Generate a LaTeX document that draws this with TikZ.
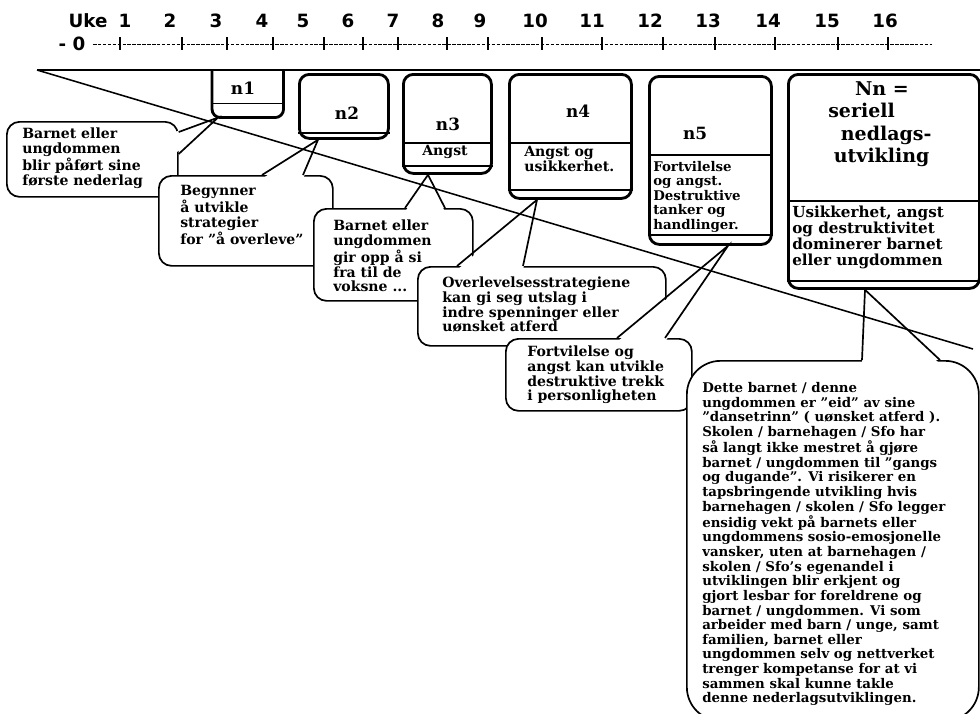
\documentclass[tikz,border=0pt]{standalone}
\usepackage{fontspec}
\setmainfont{DejaVu Serif}
\setsansfont{DejaVu Sans}
\newlength\pxu
\setlength\pxu{0.025cm}
\begin{document}
\begin{tikzpicture}[x=0.025cm,y=-0.025cm,
        every node/.style={inner sep=0pt},
        uke/.style={font=\sffamily\bfseries\fontsize{13}{15}\selectfont},
        strek/.style={line width=0.9pt},
        tidslinje/.style={line width=0.6pt, dash pattern=on 2.5pt off 1pt},
        boks/.style={draw, line width=2pt, rounded corners=7pt, fill=white, anchor=north west},
        boksrom/.style={anchor=north west},
        skille/.style={line width=1pt},
        tittel/.style={font=\bfseries\fontsize{12}{14}\selectfont},
        boble/.style={draw, fill=white, line width=1.2pt, rounded corners=9pt, anchor=north west},
        hale/.style={line width=1.2pt, line join=miter},
        tekst/.style={anchor=north west, align=left, font=\bfseries\fontsize{10}{10.4}\selectfont},
        liten/.style={anchor=north west, align=left, font=\bfseries\fontsize{9.5}{10.3}\selectfont}]
        \useasboundingbox (0,0) rectangle (980,713);
        \node[uke] (uke) at (88,21) {Uke};
        \node[uke] (u1) at (125,21) {1};
        \node[uke] (u2) at (170,21) {2};
        \node[uke] (u3) at (216,21) {3};
        \node[uke] (u4) at (262,21) {4};
        \node[uke] (u5) at (303,21) {5};
        \node[uke] (u6) at (348,21) {6};
        \node[uke] (u7) at (393,21) {7};
        \node[uke] (u8) at (438,21) {8};
        \node[uke] (u9) at (480,21) {9};
        \node[uke] (u10) at (535,21) {10};
        \node[uke] (u11) at (592,21) {11};
        \node[uke] (u12) at (650,21) {12};
        \node[uke] (u13) at (708,21) {13};
        \node[uke] (u14) at (768,21) {14};
        \node[uke] (u15) at (827,21) {15};
        \node[uke] (u16) at (885,21) {16};
        \node[uke] (u0) at (72,44) {- 0};
        \coordinate (tstart) at (93,44);
        \coordinate (tslutt) at (932,44);
        \draw[tidslinje] (tstart) -- (tslutt);
        \draw[strek] (120,37) -- (120,50);
        \draw[strek] (182,37) -- (182,50);
        \draw[strek] (227,37) -- (227,50);
        \draw[strek] (273,37) -- (273,50);
        \draw[strek] (324,37) -- (324,50);
        \draw[strek] (363,37) -- (363,50);
        \draw[strek] (398,37) -- (398,50);
        \draw[strek] (447,37) -- (447,50);
        \draw[strek] (488,37) -- (488,50);
        \draw[strek] (542,37) -- (542,50);
        \draw[strek] (602,37) -- (602,50);
        \draw[strek] (663,37) -- (663,50);
        \draw[strek] (715,37) -- (715,50);
        \draw[strek] (775,37) -- (775,50);
        \draw[strek] (838,37) -- (838,50);
        \draw[strek] (888,37) -- (888,50);
        \coordinate (hjorne) at (37,70);
        \coordinate (topphoyre) at (980,70);
        \coordinate (diagslutt) at (973,349);
        \draw[line width=1.3pt] (hjorne) -- (topphoyre);
        \node[boksrom, minimum width=71\pxu, minimum height=47\pxu] (n1) at (212,70) {};
        \draw[line width=2pt] (n1.north west) [rounded corners=6pt] -- (n1.south west) -- (n1.south east) -- (n1.north east);
        \draw[skille] ([yshift=14\pxu]n1.south west) -- ([yshift=14\pxu]n1.south east);
        \node[tittel] (n1t) at (243,88) {n1};
        \node[boks, minimum width=89\pxu, minimum height=64\pxu] (n2) at (298,73) {};
        \draw[skille] ([yshift=7\pxu]n2.south west) -- ([yshift=7\pxu]n2.south east);
        \node[tittel] (n2t) at (347,113) {n2};
        \node[boks, minimum width=88\pxu, minimum height=99\pxu] (n3) at (402,73) {};
        \draw[skille] ([yshift=32\pxu]n3.south west) -- ([yshift=32\pxu]n3.south east);
        \draw[skille] ([yshift=9\pxu]n3.south west) -- ([yshift=9\pxu]n3.south east);
        \node[tittel] (n3t) at (448,124) {n3};
        \node[font=\bfseries\fontsize{10}{10.4}\selectfont] (n3a) at (445,152) {Angst};
        \node[boks, minimum width=122\pxu, minimum height=124\pxu] (n4) at (508,73) {};
        \draw[skille] ([yshift=57\pxu]n4.south west) -- ([yshift=57\pxu]n4.south east);
        \draw[skille] ([yshift=10\pxu]n4.south west) -- ([yshift=10\pxu]n4.south east);
        \node[tittel] (n4t) at (578,111) {n4};
        \node[tekst] (n4a) at (524,146) {Angst og\\usikkerhet.};
        \node[boks, minimum width=122\pxu, minimum height=168\pxu] (n5) at (648,75) {};
        \draw[skille] ([yshift=91\pxu]n5.south west) -- ([yshift=91\pxu]n5.south east);
        \draw[skille] ([yshift=11\pxu]n5.south west) -- ([yshift=11\pxu]n5.south east);
        \node[tittel] (n5t) at (695,133) {n5};
        \node[liten] (n5a) at (653,161) {Fortvilelse\\og angst.\\Destruktive\\tanker og\\handlinger.};
        \node[boks, minimum width=191\pxu, minimum height=214\pxu] (nn) at (787,73) {};
        \draw[skille] ([yshift=89\pxu]nn.south west) -- ([yshift=89\pxu]nn.south east);
        \draw[skille] ([yshift=9\pxu]nn.south west) -- ([yshift=9\pxu]nn.south east);
        \node[anchor=north west, align=left, font=\bfseries\fontsize{13.5}{16}\selectfont] (nnt) at (828,81) {\hspace*{19pt}Nn =\\seriell\\\hspace*{9pt}nedlags-\\\hspace*{4pt}utvikling};
        \node[anchor=north west, align=left, font=\bfseries\fontsize{10.8}{11.3}\selectfont] (nna) at (792,206) {Usikkerhet, angst\\og destruktivitet\\dominerer barnet\\eller ungdommen};
        \node[boble, minimum width=171\pxu, minimum height=75\pxu] (c1) at (6,121) {};
        \fill[white] ([xshift=-4\pxu,yshift=-11\pxu]c1.north east) -- ([xshift=6\pxu]n1.south west) -- ([xshift=-4\pxu,yshift=-33\pxu]c1.north east) -- cycle;
        \draw[hale] ([yshift=-11\pxu]c1.north east) -- ([xshift=6\pxu]n1.south west) -- ([yshift=-33\pxu]c1.north east);
        \node[tekst] (c1t) at (22,128) {Barnet eller\\ungdommen\\blir påført sine\\første nederlag};
        \node[boble, minimum width=174\pxu, minimum height=90\pxu] (c2) at (158,175) {};
        \fill[white] ([xshift=104\pxu,yshift=-4\pxu]c2.north west) -- ([xshift=20\pxu]n2.south west) -- ([xshift=145\pxu,yshift=-4\pxu]c2.north west) -- cycle;
        \draw[hale] ([xshift=104\pxu]c2.north west) -- ([xshift=20\pxu]n2.south west) -- ([xshift=145\pxu]c2.north west);
        \node[tekst] (c2t) at (180,185) {Begynner\\å utvikle\\strategier\\for ”å overleve”};
        \node[boble, minimum width=159\pxu, minimum height=92\pxu] (c3) at (313,208) {};
        \fill[white] ([xshift=92\pxu,yshift=-4\pxu]c3.north west) -- ([xshift=26\pxu]n3.south west) -- ([xshift=132\pxu,yshift=-4\pxu]c3.north west) -- cycle;
        \draw[hale] ([xshift=92\pxu]c3.north west) -- ([xshift=26\pxu]n3.south west) -- ([xshift=132\pxu]c3.north west);
        \node[tekst] (c3t) at (333,220) {Barnet eller\\ungdommen\\gir opp å si\\fra til de\\voksne ...};
        \node[boble, minimum width=248\pxu, minimum height=79\pxu] (c4) at (417,266) {};
        \fill[white] ([xshift=40\pxu,yshift=-4\pxu]c4.north west) -- ([xshift=29\pxu]n4.south west) -- ([xshift=106\pxu,yshift=-4\pxu]c4.north west) -- cycle;
        \draw[hale] ([xshift=40\pxu]c4.north west) -- ([xshift=29\pxu]n4.south west) -- ([xshift=106\pxu]c4.north west);
        \node[tekst] (c4t) at (442,277) {Overlevelsesstrategiene\\kan gi seg utslag i\\indre spenninger eller\\uønsket atferd};
        \node[boble, minimum width=186\pxu, minimum height=72\pxu] (c5) at (505,338) {};
        \fill[white] ([xshift=112\pxu,yshift=-4\pxu]c5.north west) -- ([xshift=80\pxu]n5.south west) -- ([xshift=160\pxu,yshift=-4\pxu]c5.north west) -- cycle;
        \draw[hale] ([xshift=112\pxu]c5.north west) -- ([xshift=80\pxu]n5.south west) -- ([xshift=160\pxu]c5.north west);
        \node[tekst] (c5t) at (527,346) {Fortvilelse og\\angst kan utvikle\\destruktive trekk\\i personligheten};
        \node[boble, rounded corners=24pt, minimum width=292\pxu, minimum height=360\pxu] (c6) at (686,360) {};
        \fill[white] ([xshift=176\pxu,yshift=-4\pxu]c6.north west) -- ([xshift=78\pxu]nn.south west) -- ([xshift=254\pxu,yshift=-4\pxu]c6.north west) -- cycle;
        \draw[hale] ([xshift=176\pxu]c6.north west) -- ([xshift=78\pxu]nn.south west) -- ([xshift=254\pxu]c6.north west);
        \node[anchor=north west, align=left, font=\bfseries\fontsize{9.5}{10.4}\selectfont] (c6t) at (702,382) {Dette barnet / denne\\ungdommen er ”eid” av sine\\”dansetrinn” ( uønsket atferd ).\\Skolen / barnehagen / Sfo har\\så langt ikke mestret å gjøre\\barnet / ungdommen til ”gangs\\og dugande”. Vi risikerer en\\tapsbringende utvikling hvis\\barnehagen / skolen / Sfo legger\\ensidig vekt på barnets eller\\ungdommens sosio-emosjonelle\\vansker, uten at barnehagen /\\skolen / Sfo’s egenandel i\\utviklingen blir erkjent og\\gjort lesbar for foreldrene og\\barnet / ungdommen. Vi som\\arbeider med barn / unge, samt\\familien, barnet eller\\ungdommen selv og nettverket\\trenger kompetanse for at vi\\sammen skal kunne takle\\denne nederlagsutviklingen.};
        \draw[line width=1.1pt] (hjorne) -- (diagslutt);
\end{tikzpicture}
\end{document}
